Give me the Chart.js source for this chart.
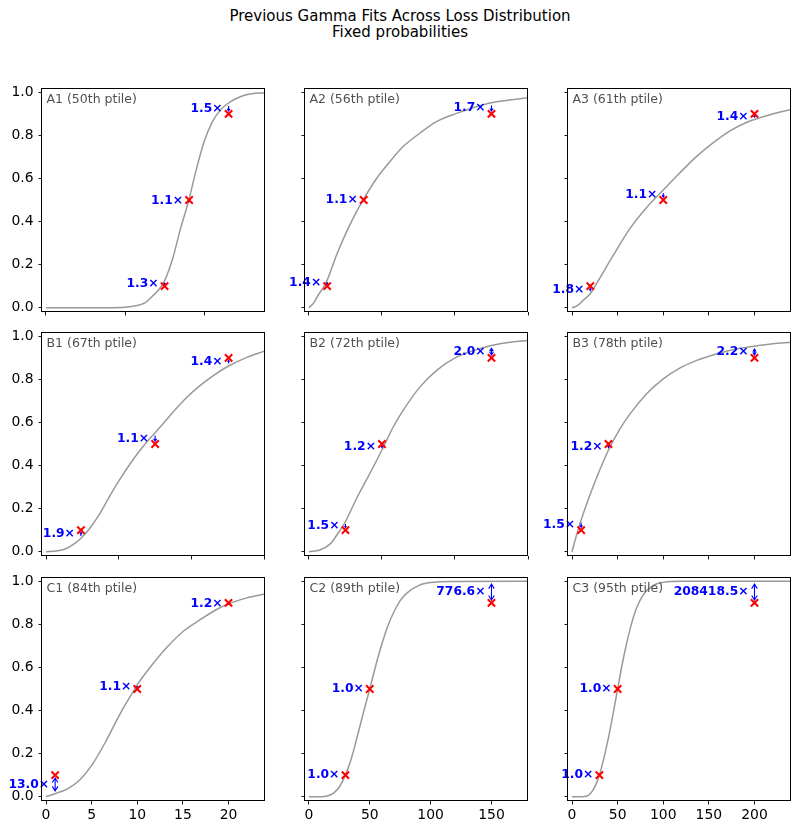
<!DOCTYPE html>
<html>
<head>
<meta charset="utf-8">
<script src="https://cdn.jsdelivr.net/npm/chart.js@4.4.1/dist/chart.umd.min.js"></script>
<style>
  body { margin: 0; background: #fff; width: 800px; height: 832px; position: relative; overflow: hidden; font-family: "DejaVu Sans", sans-serif; }
  .title { position: absolute; left: 0; width: 800px; text-align: center; font-size: 15px; line-height: 16px; color: #000; }
  canvas { position: absolute; }
</style>
</head>
<body>
<div class="title" style="top:8px">Previous Gamma Fits Across Loss Distribution</div>
<div class="title" style="top:24px">Fixed probabilities</div>
<script>
// shared
const yTicks = [0, 0.2, 0.4, 0.6, 0.8, 1.0];
const yRange = [-0.02, 1.02];
const targetProbs = [0.1, 0.5, 0.9];

// A1
const a1Label = "A1 (50th ptile)";
const a1CurveX = [0, 8, 10, 11.5, 12.5, 13.5, 14, 14.5, 15, 16, 17, 18, 19, 20, 21, 22, 23, 24, 25, 26, 27.7];
const a1CurveY = [0, 0, 0.002, 0.01, 0.022, 0.055, 0.073, 0.095, 0.125, 0.225, 0.365, 0.49, 0.64, 0.77, 0.86, 0.915, 0.948, 0.97, 0.985, 0.993, 0.998];
const a1TargetX = [15, 18.1, 23.1];
const a1FitY = [0.125, 0.49, 0.95];
const a1Ratio = ["1.3", "1.1", "1.5"];
const a1XTicks = [0, 10, 20];
const a1XRange = [-0.5, 27.7];

// A2
const a2Label = "A2 (56th ptile)";
const a2CurveX = [0, 3, 6.4, 9.8, 12.5, 18.9, 25.8, 32.6, 37.5, 46.3, 55.4, 64.5, 75.9, 87.3, 101, 114.7, 125, 137.5, 150];
const a2CurveY = [0, 0.02, 0.059, 0.093, 0.128, 0.245, 0.353, 0.446, 0.505, 0.6, 0.678, 0.748, 0.81, 0.864, 0.902, 0.933, 0.952, 0.964, 0.975];
const a2TargetX = [12.5, 37.5, 125];
const a2FitY = [0.128, 0.505, 0.952];
const a2Ratio = ["1.4", "1.1", "1.7"];
const a2XTicks = [0, 50, 100, 150];
const a2XRange = [-2.7, 150];

// A3
const a3Label = "A3 (61th ptile)";
const a3CurveX = [0, 5.5, 12.7, 20, 27.3, 45.5, 63.6, 81.8, 100, 118, 136, 154.5, 172.7, 191, 200, 216, 240];
const a3CurveY = [0, 0.008, 0.036, 0.065, 0.115, 0.245, 0.368, 0.465, 0.546, 0.625, 0.7, 0.765, 0.82, 0.86, 0.874, 0.895, 0.92];
const a3TargetX = [20, 100, 200];
const a3FitY = [0.065, 0.546, 0.874];
const a3Ratio = ["1.8", "1.1", "1.4"];
const a3XTicks = [0, 50, 100, 150, 200];
const a3XRange = [-4.4, 240];

// B1
const b1Label = "B1 (67th ptile)";
const b1CurveX = [0, 1.4, 2.8, 4.1, 4.8, 6, 7.4, 8.7, 10.1, 11.5, 12.9, 14.2, 15, 16, 17.5, 19.3, 21.2, 23, 25.1, 27.6, 30.1];
const b1CurveY = [0, 0.003, 0.015, 0.042, 0.062, 0.108, 0.177, 0.255, 0.333, 0.405, 0.47, 0.523, 0.552, 0.59, 0.65, 0.715, 0.772, 0.818, 0.862, 0.902, 0.932];
const b1TargetX = [4.8, 15, 25.1];
const b1FitY = [0.062, 0.552, 0.862];
const b1Ratio = ["1.9", "1.1", "1.4"];
const b1XTicks = [0, 10, 20, 30];
const b1XRange = [-0.55, 30.1];

// B2
const b2Label = "B2 (72th ptile)";
const b2CurveX = [0, 7.5, 14.4, 18.9, 25, 32.6, 41.7, 50, 57.7, 64.5, 75.9, 87.3, 101, 114.7, 125, 137.5, 150];
const b2CurveY = [0, 0.008, 0.035, 0.075, 0.14, 0.247, 0.363, 0.472, 0.579, 0.656, 0.764, 0.841, 0.903, 0.938, 0.957, 0.972, 0.981];
const b2TargetX = [25, 50, 125];
const b2FitY = [0.14, 0.472, 0.957];
const b2Ratio = ["1.5", "1.2", "2.0"];
const b2XTicks = [0, 50, 100, 150];
const b2XRange = [-2.7, 150];

// B3
const b3Label = "B3 (78th ptile)";
const b3CurveX = [0, 5.5, 10, 18.2, 27.3, 40, 52.7, 63.6, 81.8, 100, 118, 136, 158, 180, 200, 220, 240];
const b3CurveY = [0, 0.085, 0.147, 0.247, 0.347, 0.472, 0.571, 0.64, 0.733, 0.802, 0.852, 0.887, 0.918, 0.941, 0.954, 0.965, 0.972];
const b3TargetX = [10, 40, 200];
const b3FitY = [0.147, 0.472, 0.954];
const b3Ratio = ["1.5", "1.2", "2.2"];
const b3XTicks = [0, 50, 100, 150, 200];
const b3XRange = [-4.4, 240];

// C1
const c1Label = "C1 (84th ptile)";
const c1CurveX = [0, 1, 2.3, 3.75, 5.2, 6.67, 8.12, 9.58, 10, 11.4, 13.2, 15.05, 16.9, 18.7, 20, 22, 24];
const c1CurveY = [0, 0.014, 0.035, 0.08, 0.158, 0.266, 0.385, 0.49, 0.52, 0.6, 0.691, 0.768, 0.822, 0.869, 0.895, 0.923, 0.941];
const c1TargetX = [1, 10, 20];
const c1FitY = [0.014, 0.52, 0.89];
const c1Ratio = ["13.0", "1.1", "1.2"];
const c1XTicks = [0, 5, 10, 15, 20];
const c1XRange = [-0.44, 24];

// C2
const c2Label = "C2 (89th ptile)";
const c2CurveX = [0, 10, 15, 20, 25, 30, 35, 40, 45, 50, 55, 60, 65, 70, 75, 80, 90, 100, 120, 180];
const c2CurveY = [0, 0, 0.003, 0.015, 0.045, 0.1, 0.18, 0.285, 0.395, 0.5, 0.61, 0.71, 0.795, 0.86, 0.91, 0.943, 0.98, 0.994, 0.999, 1.0];
const c2TargetX = [30, 50, 150];
const c2FitY = [0.1, 0.5, 1.0];
const c2Ratio = ["1.0", "1.0", "776.6"];
const c2XTicks = [0, 50, 100, 150];
const c2XRange = [-3.2, 180];

// C3
const c3Label = "C3 (95th ptile)";
const c3CurveX = [0, 12, 18, 22, 26, 30, 35, 40, 45, 50, 55, 60, 65, 70, 75, 80, 90, 100, 120, 240];
const c3CurveY = [0, 0, 0.006, 0.025, 0.055, 0.1, 0.18, 0.275, 0.385, 0.5, 0.615, 0.714, 0.8, 0.868, 0.915, 0.948, 0.983, 0.995, 1.0, 1.0];
const c3TargetX = [30, 50, 200];
const c3FitY = [0.1, 0.5, 1.0];
const c3Ratio = ["1.0", "1.0", "208418.5"];
const c3XTicks = [0, 50, 100, 150, 200];
const c3XRange = [-4.4, 240];

const panels = [
  [a1Label, a1CurveX, a1CurveY, a1TargetX, a1FitY, a1Ratio, a1XTicks, a1XRange],
  [a2Label, a2CurveX, a2CurveY, a2TargetX, a2FitY, a2Ratio, a2XTicks, a2XRange],
  [a3Label, a3CurveX, a3CurveY, a3TargetX, a3FitY, a3Ratio, a3XTicks, a3XRange],
  [b1Label, b1CurveX, b1CurveY, b1TargetX, b1FitY, b1Ratio, b1XTicks, b1XRange],
  [b2Label, b2CurveX, b2CurveY, b2TargetX, b2FitY, b2Ratio, b2XTicks, b2XRange],
  [b3Label, b3CurveX, b3CurveY, b3TargetX, b3FitY, b3Ratio, b3XTicks, b3XRange],
  [c1Label, c1CurveX, c1CurveY, c1TargetX, c1FitY, c1Ratio, c1XTicks, c1XRange],
  [c2Label, c2CurveX, c2CurveY, c2TargetX, c2FitY, c2Ratio, c2XTicks, c2XRange],
  [c3Label, c3CurveX, c3CurveY, c3TargetX, c3FitY, c3Ratio, c3XTicks, c3XRange],
];

// layout of the 3x3 grid (px)
const colLeft = [42, 305, 568];
const rowTop = [88, 332, 577];
const AX_W = 223, AX_H = 224;
const PAD_L = 50, PAD_T = 20, PAD_R = 20, PAD_B = 35;

Chart.defaults.font.family = '"DejaVu Sans"';
Chart.defaults.font.size = 13.9;
Chart.defaults.color = "#000";

// '<->' style arrow between fitted value and target, shrunk at both ends
function drawArrow(ctx, px, y0, y1) {
  const dir = Math.sign(y1 - y0) || 1;
  const len = Math.abs(y1 - y0);
  const s = Math.min(2.8, len * 0.3);
  const a = y0 + dir * s, b = y1 - dir * s;
  const span = Math.abs(b - a);
  const hl = Math.min(4.5, Math.max(1.5, span * 0.45));
  const hw = hl * 0.62;
  ctx.beginPath();
  ctx.moveTo(px, a); ctx.lineTo(px, b);
  ctx.moveTo(px - hw, b - dir * hl); ctx.lineTo(px, b); ctx.lineTo(px + hw, b - dir * hl);
  if (span > 6) {
    ctx.moveTo(px - hw, a + dir * hl); ctx.lineTo(px, a); ctx.lineTo(px + hw, a + dir * hl);
  }
  ctx.stroke();
}

const decor = {
  id: "decor",
  // curve is dataset 1 and is drawn first; put texts between curve and markers
  afterDatasetDraw(chart, args, opts) {
    if (args.index !== 1) return;
    const { ctx, chartArea: ar, scales } = chart;
    const p = opts.panel;
    ctx.save();
    ctx.strokeStyle = "#0000ff";
    ctx.fillStyle = "#0000ff";
    ctx.lineWidth = 1.1;
    p[3].forEach((tx, i) => {
      const px = scales.x.getPixelForValue(tx);
      const yf = scales.y.getPixelForValue(p[4][i]);
      const yt = scales.y.getPixelForValue(targetProbs[i]);
      drawArrow(ctx, px, yf, yt);
      ctx.font = 'bold 12.3px "DejaVu Sans"';
      ctx.textAlign = "right";
      ctx.textBaseline = "middle";
      ctx.fillText(p[5][i] + "\u00d7", px - 6, (yf + yt) / 2);
    });
    ctx.fillStyle = "#505050";
    ctx.font = '12.5px "DejaVu Sans"';
    ctx.textAlign = "left";
    ctx.textBaseline = "top";
    ctx.fillText(p[0], ar.left + 4.5, ar.top + 5);
    ctx.restore();
  },
  afterDraw(chart) {
    const { ctx, chartArea: ar } = chart;
    ctx.save();
    ctx.strokeStyle = "#000";
    ctx.lineWidth = 1;
    ctx.strokeRect(Math.round(ar.left) - 0.5, Math.round(ar.top) + 0.5, Math.round(ar.right - ar.left), Math.round(ar.bottom - ar.top) - 1);
    ctx.restore();
  },
};

panels.forEach((p, k) => {
  const row = Math.floor(k / 3), col = k % 3;
  const cv = document.createElement("canvas");
  const w = AX_W + PAD_L + PAD_R, h = AX_H + PAD_T + PAD_B;
  cv.width = w; cv.height = h;
  cv.style.left = (colLeft[col] - PAD_L) + "px";
  cv.style.top = (rowTop[row] - PAD_T) + "px";
  cv.style.width = w + "px"; cv.style.height = h + "px";
  document.body.appendChild(cv);

  const curve = p[1].map((x, i) => ({ x: x, y: p[2][i] }));
  const pts = p[3].map((x, i) => ({ x: x, y: targetProbs[i] }));

  new Chart(cv, {
    type: "scatter",
    data: {
      datasets: [
        {
          data: pts,
          pointStyle: "crossRot",
          pointRadius: 5.2,
          borderColor: "#ff0000",
          backgroundColor: "#ff0000",
          borderWidth: 2,
        },
        {
          data: curve,
          showLine: true,
          borderColor: "#999999",
          borderWidth: 1.5,
          pointRadius: 0,
          cubicInterpolationMode: "monotone",
        },
      ],
    },
    options: {
      responsive: false,
      animation: false,
      events: [],
      layout: { padding: { left: 0, top: PAD_T, right: PAD_R, bottom: 0 } },
      plugins: { legend: { display: false }, tooltip: { enabled: false }, decor: { panel: p } },
      scales: {
        x: {
          type: "linear",
          min: p[7][0],
          max: p[7][1],
          afterBuildTicks: (s) => { s.ticks = p[6].map((v) => ({ value: v })); },
          afterFit: (s) => { s.height = PAD_B; },
          border: { display: false },
          grid: { drawOnChartArea: false, drawTicks: true, tickLength: 3.5, color: "#000", lineWidth: 0.9 },
          ticks: { padding: 3, maxRotation: 0, autoSkip: false, callback: (v) => (row === 2 ? String(v) : "") },
        },
        y: {
          type: "linear",
          min: yRange[0],
          max: yRange[1],
          afterBuildTicks: (s) => { s.ticks = yTicks.map((v) => ({ value: v })); },
          afterFit: (s) => { s.width = PAD_L; },
          border: { display: false },
          grid: { drawOnChartArea: false, drawTicks: true, tickLength: 3.5, color: "#000", lineWidth: 0.9 },
          ticks: { padding: 5, autoSkip: false, callback: (v) => (col === 0 ? v.toFixed(1) : "") },
        },
      },
    },
    plugins: [decor],
  });
});
</script>
</body>
</html>
